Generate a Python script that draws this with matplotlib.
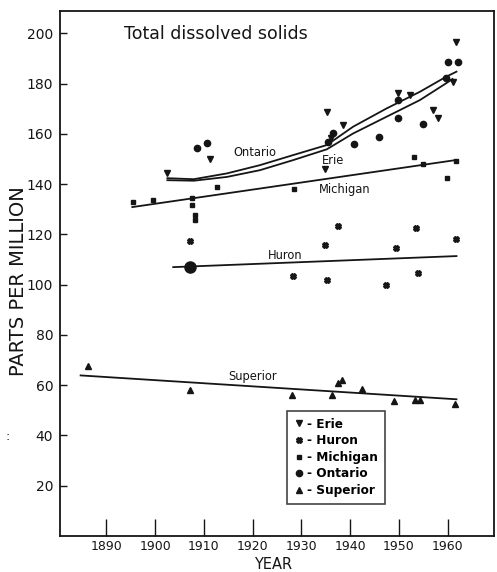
import numpy as np
import matplotlib.pyplot as plt
from matplotlib.lines import Line2D

# data
erie_year = [1902.5, 1911.3, 1934.8, 1935.2, 1936.0, 1938.6, 1949.8, 1952.2, 1957.0, 1958.0, 1961.0, 1961.8]
erie_val = [144.3, 149.9, 146.0, 168.8, 158.5, 163.5, 176.2, 175.5, 169.5, 166.2, 180.8, 196.7]

ontario_year = [1908.5, 1910.6, 1935.4, 1936.5, 1940.8, 1946.0, 1949.8, 1949.8, 1955.0, 1959.7, 1960.0, 1962.1]
ontario_val = [154.3, 156.3, 157.0, 160.5, 156.0, 158.9, 173.5, 166.2, 164.0, 182.2, 188.8, 188.8]

michigan_year = [1895.5, 1899.6, 1907.6, 1907.6, 1908.2, 1908.2, 1912.7, 1928.5, 1953.0, 1955.0, 1959.8, 1961.6]
michigan_val = [132.9, 133.7, 134.4, 131.7, 127.7, 125.7, 139.0, 138.0, 150.8, 148.0, 142.5, 149.2]

huron_year = [1907.2, 1928.3, 1934.8, 1935.2, 1937.5, 1947.3, 1949.3, 1953.4, 1953.9, 1961.6]
huron_val = [117.3, 103.4, 115.7, 101.8, 123.3, 99.8, 114.5, 122.5, 104.5, 118.1]
huron_big_year = [1907.2]
huron_big_val = [107.2]

superior_year = [1886.3, 1907.2, 1928.0, 1936.3, 1937.5, 1938.3, 1942.4, 1949.0, 1953.2, 1954.3, 1961.4]
superior_val = [67.5, 58.0, 56.0, 56.0, 60.7, 62.0, 58.4, 53.6, 54.0, 54.0, 52.4]

# fitted trend lines as drawn
ontario_fit_year = [1902.5, 1907.9, 1914.7, 1921.5, 1928.3, 1935.2, 1940.6, 1947.5, 1954.3, 1959.7, 1961.8]
ontario_fit_val = [142.4, 142.0, 144.3, 147.6, 151.6, 155.6, 162.9, 170.2, 176.8, 182.8, 184.8]
erie_fit_year = [1902.5, 1907.9, 1914.7, 1921.5, 1928.3, 1935.2, 1940.6, 1947.5, 1954.3, 1959.7, 1961.0]
erie_fit_val = [141.6, 141.4, 142.9, 145.6, 149.6, 153.9, 160.2, 166.9, 173.5, 180.2, 181.9]
michigan_fit_year = [1895.3, 1961.6]
michigan_fit_val = [130.9, 149.6]
huron_fit_year = [1903.7, 1961.8]
huron_fit_val = [107.0, 111.4]
superior_fit_year = [1884.7, 1961.8]
superior_fit_val = [63.9, 54.4]

x_ticks = [1890, 1900, 1910, 1920, 1930, 1940, 1950, 1960]
y_ticks = [20, 40, 60, 80, 100, 120, 140, 160, 180, 200]

ink = "#151515"

fig = plt.figure(figsize=(4.97, 5.72), dpi=100)
ax = fig.add_axes([0.121, 0.063, 0.873, 0.918])

# trend lines
for xs, ys in [(ontario_fit_year, ontario_fit_val), (erie_fit_year, erie_fit_val),
               (michigan_fit_year, michigan_fit_val), (huron_fit_year, huron_fit_val),
               (superior_fit_year, superior_fit_val)]:
    ax.plot(xs, ys, color=ink, lw=1.3)

# data points
ax.plot(erie_year, erie_val, "v", color=ink, ms=4.5, ls="none")
ax.plot(ontario_year, ontario_val, "o", color=ink, ms=4.5, ls="none")
ax.plot(michigan_year, michigan_val, "s", color=ink, ms=3.5, ls="none")
ax.plot(huron_year, huron_val, "X", color=ink, ms=4, ls="none")
ax.plot(huron_big_year, huron_big_val, "o", color=ink, ms=8, ls="none")
ax.plot(superior_year, superior_val, "^", color=ink, ms=4.5, ls="none")

# curve labels
lbl = dict(color=ink, fontsize=8.3, ha="center", va="center")
ax.text(1920.5, 152.8, "Ontario", **lbl)
ax.text(1936.5, 149.6, "Erie", **lbl)
ax.text(1938.8, 138.0, "Michigan", **lbl)
ax.text(1926.6, 111.8, "Huron", **lbl)
ax.text(1919.9, 63.5, "Superior", **lbl)

ax.text(1893.5, 199.9, "Total dissolved solids", color=ink, fontsize=12.5, va="center")

ax.set_xlim(1880.5, 1969.5)
ax.set_ylim(0, 209)
ax.set_xticks(x_ticks)
ax.set_yticks(y_ticks)
ax.tick_params(axis="x", direction="in", length=12, width=1, labelsize=9, pad=3, colors=ink)
ax.tick_params(axis="y", direction="in", length=5, width=1, labelsize=10, pad=5, colors=ink)
for s in ax.spines.values():
    s.set_color(ink)
    s.set_linewidth(1.3)

ax.set_xlabel("YEAR", fontsize=10.5, color=ink, va="center")
ax.xaxis.set_label_coords(0.49, -0.054)
ax.set_ylabel("PARTS PER MILLION", fontsize=14, color=ink, va="center")
ax.yaxis.set_label_coords(-0.097, 0.485)

handles = [Line2D([], [], marker=m, color=ink, ls="none", ms=s)
           for m, s in [("v", 4.5), ("X", 4), ("s", 3.5), ("o", 4.5), ("^", 4.5)]]
labels = ["- Erie", "- Huron", "- Michigan", "- Ontario", "- Superior"]
leg = ax.legend(handles, labels, loc="lower left", bbox_to_anchor=(0.51, 0.05),
                prop={"size": 8.7, "weight": "bold"}, frameon=True, fancybox=False,
                edgecolor=ink, handlelength=0.8, handletextpad=0.3, borderpad=0.55,
                labelspacing=0.3)
leg.get_frame().set_linewidth(1.2)

fig.text(0.012, 1 - 440 / 572, ":", fontsize=9, color=ink)

fig.savefig("out.png", dpi=100, facecolor="white")
